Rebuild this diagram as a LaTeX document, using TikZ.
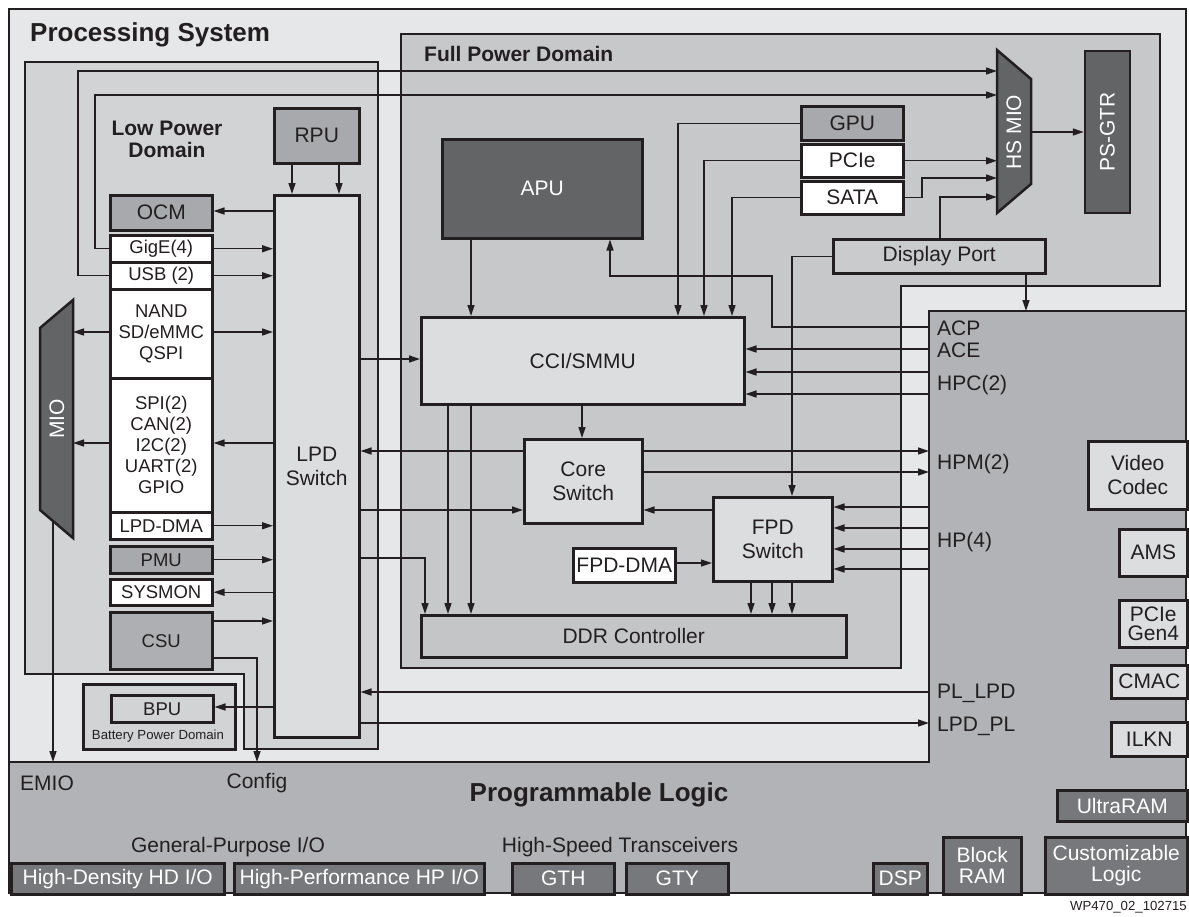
\documentclass[tikz,border=0pt]{standalone}
\usepackage{fontspec}
\setmainfont{Liberation Sans}
\usetikzlibrary{arrows.meta}
\definecolor{lc}{HTML}{231F20}
\definecolor{psbg}{HTML}{E6E7E8}
\definecolor{lpdbg}{HTML}{D1D3D4}
\definecolor{fpdbg}{HTML}{C7C8CA}
\definecolor{plbg}{HTML}{B1B3B6}
\definecolor{lite}{HTML}{DCDDDE}
\definecolor{mid}{HTML}{A7A9AC}
\definecolor{csuc}{HTML}{ADAFB2}
\definecolor{dark}{HTML}{636466}
\definecolor{plblk}{HTML}{77787B}
\definecolor{ddrc}{HTML}{C4C5C7}
\definecolor{dpc}{HTML}{CACBCD}
\newcommand\fA{\fontsize{21}{24}\selectfont}
\newcommand\fB{\fontsize{18.5}{21}\selectfont}
\newcommand\fBig{\fontsize{26}{28}\selectfont}
\newcommand\fS{\fontsize{13.2}{15}\selectfont}
\newcommand\B[7]{\node[#1, anchor=north west, minimum width={(#5)-(#3)}, minimum height={(#6)-(#4)}] (#2) at (#3,#4) {#7};}
\begin{document}
\begin{tikzpicture}[x=1pt, y=-1pt, line join=miter,
  bx/.style={draw=lc, line width=2.5pt, inner sep=0pt, align=center, text=lc, font=\fA},
  sb/.style={bx, font=\fB},
  dk/.style={bx, fill=dark, text=white},
  pb/.style={bx, fill=plblk, text=white},
  area/.style={draw=lc, line width=2.5pt},
  arr/.style={draw=lc, line width=1.3pt, -{Triangle[length=11pt,width=7pt]}},
  lbl/.style={text=lc, font=\fA, inner sep=0pt}]
\useasboundingbox (0,0) rectangle (1189,916);
% backgrounds
\filldraw[area, fill=psbg] (9,9) rectangle (1186,893);
\filldraw[area, fill=plbg] (9,762) -- (929,762) -- (929,311) -- (1186,311) -- (1186,893) -- (9,893) -- cycle;
\filldraw[area, fill=lpdbg] (25,62) -- (378,62) -- (378,749) -- (244,749) -- (244,674) -- (25,674) -- cycle;
\filldraw[area, fill=fpdbg] (401,34) -- (1160,34) -- (1160,286) -- (901,286) -- (901,668) -- (401,668) -- cycle;
% titles
\node[lbl, anchor=west, font=\bfseries\fBig] (pstitle) at (30,35) {Processing System};
\node[lbl, align=center, font=\bfseries\fontsize{21}{22}\selectfont] (lpdtitle) at (167,139) {Low Power\\Domain};
\node[lbl, anchor=west, font=\bfseries\fA] (fpdtitle) at (424,54) {Full Power Domain};
\node[lbl, font=\bfseries\fBig] (pltitle) at (599,795) {Programmable Logic};
\node[lbl, anchor=west] (emiolbl) at (20,783) {EMIO};
\node[lbl] (cfglbl) at (257,783) {Config};
\node[lbl] (gpiolbl) at (228,847) {General-Purpose I/O};
\node[lbl] (hstlbl) at (620,847) {High-Speed Transceivers};
\node[lbl, anchor=east, font=\fS] (wp) at (1187,907) {WP470\_02\_102715};
% PL port labels
\node[lbl, anchor=base west] (acp) at (937,335) {ACP};
\node[lbl, anchor=base west] (ace) at (937,357) {ACE};
\node[lbl, anchor=base west] (hpc) at (937,390) {HPC(2)};
\node[lbl, anchor=base west] (hpm) at (937,469) {HPM(2)};
\node[lbl, anchor=base west] (hp) at (937,547) {HP(4)};
\node[lbl, anchor=base west] (pllpd) at (937,698) {PL\_LPD};
\node[lbl, anchor=base west] (lpdpl) at (937,731) {LPD\_PL};
% LPD blocks
\B{bx,fill=mid}{rpu}{273}{107}{358}{162}{RPU}
\B{bx,fill=lite}{lpdsw}{273}{194}{358}{736}{LPD\\Switch}
\B{bx,fill=mid}{ocm}{109}{194}{211}{229}{OCM}
\B{sb,fill=white}{gige}{109}{234}{211}{261}{GigE(4)}
\B{sb,fill=white}{usb}{109}{261}{211}{288}{USB (2)}
\B{sb,fill=white}{nand}{109}{288}{211}{377}{NAND\\SD/eMMC\\QSPI}
\B{sb,fill=white}{spi}{109}{377}{211}{511}{SPI(2)\\CAN(2)\\I2C(2)\\UART(2)\\GPIO}
\B{sb,fill=white}{lpddma}{109}{511}{211}{538}{LPD-DMA}
\B{sb,fill=mid}{pmu}{109}{545}{211}{572}{PMU}
\B{sb,fill=white}{sysmon}{109}{578}{211}{604}{SYSMON}
\B{sb,fill=csuc}{csu}{109}{611}{211}{668}{CSU}
\B{bx,fill=lpdbg}{bpd}{82}{683}{234}{748}{}
\B{sb,fill=lpdbg}{bpu}{110}{694}{212}{721}{BPU}
\node[lbl, font=\fS] (bpdlbl) at (158,736) {Battery Power Domain};
\filldraw[area, fill=dark] (40,328) -- (73,300) -- (73,538) -- (40,510) -- cycle;
\node[lbl, rotate=90, text=white] (mio) at (57,419) {MIO};
% FPD blocks
\B{dk}{apu}{441}{138}{641}{237}{APU}
\B{bx,fill=mid}{gpu}{800}{105}{902}{139}{GPU}
\B{bx,fill=white}{pcie}{800}{143}{902}{176}{PCIe}
\B{bx,fill=white}{sata}{800}{180}{902}{213}{SATA}
\B{bx,fill=dpc}{dp}{832}{238}{1044}{272}{Display Port}
\B{bx,fill=lite}{cci}{420}{316}{743}{403}{CCI/SMMU}
\B{bx,fill=lite}{core}{523}{438}{641}{522}{Core\\Switch}
\B{bx,fill=lite}{fpdsw}{712}{496}{831}{580}{FPD\\Switch}
\B{bx,fill=white}{fpddma}{572}{547}{674}{581}{FPD-DMA}
\B{bx,fill=ddrc}{ddr}{420}{614}{845}{656}{DDR Controller}
\filldraw[area, fill=dark] (997,50) -- (1031,79) -- (1031,184) -- (997,213) -- cycle;
\node[lbl, rotate=90, text=white] (hsmio) at (1014,132) {HS MIO};
\node[dk, rotate=90, minimum width=162, minimum height=45] (psgtr) at (1107.5,132) {PS-GTR};
% PL blocks
\B{bx,fill=lite}{vc}{1087}{440}{1186}{508}{Video\\Codec}
\B{bx,fill=lite}{ams}{1118}{528}{1186}{575}{AMS}
\B{bx,fill=lite,font=\fontsize{21}{19}\selectfont}{pg4}{1118}{599}{1186}{646}{PCIe\\Gen4}
\B{bx,fill=lite}{cmac}{1110}{664}{1186}{697}{CMAC}
\B{bx,fill=lite}{ilkn}{1110}{721}{1186}{755}{ILKN}
\B{pb}{uram}{1056}{789}{1186}{820}{UltraRAM}
\B{pb,font=\fontsize{21}{21}\selectfont}{bram}{942}{836}{1020}{893}{Block\\RAM}
\B{pb,font=\fontsize{21}{21}\selectfont}{clog}{1044}{836}{1186}{893}{Customizable\\Logic}
\B{pb}{dsp}{872}{862}{926}{893}{DSP}
\B{pb}{gty}{625}{862}{727}{893}{GTY}
\B{pb}{gth}{511}{862}{613}{893}{GTH}
\B{pb}{hpio}{233}{862}{483}{893}{High-Performance HP I/O}
\B{pb}{hdio}{10}{862}{223}{893}{High-Density HD I/O}
% coordinates
\coordinate (hsL) at (997,132);
\coordinate (hsR) at (1031,132);
\coordinate (mioR) at (73,419);
\coordinate (mioB) at (53,521);
\coordinate (plL) at (929,500);
\coordinate (plT) at (1026,311);
\coordinate (emio) at (53,762);
\coordinate (cfg) at (257,762);
% connectors LPD
\draw[arr] (rpu.south -| 292,0) -- (lpdsw.north -| 292,0);
\draw[arr] (rpu.south -| 339,0) -- (lpdsw.north -| 339,0);
\draw[arr] (lpdsw.west |- 0,211) -- (ocm.east |- 0,211);
\draw[arr] (gige.east) -- (gige.east -| lpdsw.west);
\draw[arr] (usb.east) -- (usb.east -| lpdsw.west);
\draw[arr] (nand.east |- 0,332) -- (lpdsw.west |- 0,332);
\draw[arr] (nand.west |- 0,332) -- (mioR |- 0,332);
\draw[arr] (lpdsw.west |- 0,443) -- (spi.east |- 0,443);
\draw[arr] (spi.west |- 0,443) -- (mioR |- 0,443);
\draw[arr] (lpddma.east) -- (lpddma.east -| lpdsw.west);
\draw[arr] (pmu.east) -- (pmu.east -| lpdsw.west);
\draw[arr] (lpdsw.west |- sysmon.east) -- (sysmon.east);
\draw[arr] (csu.east |- 0,621) -- (lpdsw.west |- 0,621);
\draw[arr] (csu.east |- 0,658) -| (cfg);
\draw[arr] (lpdsw.west |- 0,707) -- (bpu.east |- 0,707);
\draw[arr] (mioB) -- (emio);
\draw[arr] (gige.west) -| (95,95) -- (hsL |- 0,95);
\draw[arr] (usb.west) -| (78,71) -- (hsL |- 0,71);
% connectors FPD
\draw[arr] (gpu.west) -| (cci.north -| 678,0);
\draw[arr] (pcie.west) -| (cci.north -| 704,0);
\draw[arr] (sata.west) -| (cci.north -| 732,0);
\draw[arr] (pcie.east) -- (hsL |- pcie.east);
\draw[arr] (sata.east) -| (922,178) -- (hsL |- 0,178);
\draw[arr] (dp.north -| 940,0) |- (hsL |- 0,197);
\draw[arr] (dp.south -| 1026,0) -- (plT);
\draw[arr] (dp.west) -| (fpdsw.north -| 792,0);
\draw[arr] (hsR) -- (psgtr.north);
\draw[arr] (apu.south -| 471,0) -- (cci.north -| 471,0);
\draw[arr] (plL |- 0,327) -| (772,276) -| (apu.south -| 610,0);
\foreach \y in {349,372,394} \draw[arr] (plL |- 0,\y) -- (cci.east |- 0,\y);
\draw[arr] (lpdsw.east |- 0,359) -- (cci.west |- 0,359);
\draw[arr] (cci.south -| 582,0) -- (core.north -| 582,0);
\foreach \x in {448,471} \draw[arr] (cci.south -| \x,0) -- (ddr.north -| \x,0);
\draw[arr] (lpdsw.east |- 0,558) -| (ddr.north -| 425,0);
\draw[arr] (core.west |- 0,451) -- (lpdsw.east |- 0,451);
\foreach \y in {451,472} \draw[arr] (core.east |- 0,\y) -- (plL |- 0,\y);
\draw[arr] (lpdsw.east |- 0,510) -- (core.west |- 0,510);
\draw[arr] (fpdsw.west |- 0,510) -- (core.east |- 0,510);
\draw[arr] (fpddma.east |- 0,563) -- (fpdsw.west |- 0,563);
\foreach \y in {507,528,549,569} \draw[arr] (plL |- 0,\y) -- (fpdsw.east |- 0,\y);
\foreach \x in {751,772,792} \draw[arr] (fpdsw.south -| \x,0) -- (ddr.north -| \x,0);
\draw[arr] (plL |- 0,692) -- (lpdsw.east |- 0,692);
\draw[arr] (lpdsw.east |- 0,723) -- (plL |- 0,723);
\end{tikzpicture}
\end{document}
